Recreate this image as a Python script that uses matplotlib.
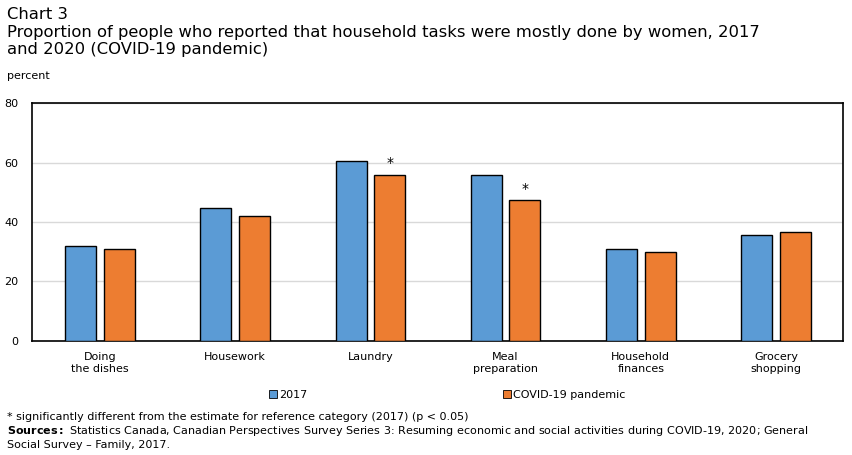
import numpy as np
import matplotlib
matplotlib.use("Agg")
from matplotlib import pyplot as plt
from matplotlib.patches import Patch

# data
categories = ["Doing\nthe dishes", "Housework", "Laundry", "Meal\npreparation",
              "Household\nfinances", "Grocery\nshopping"]
values_2017 = [31.8, 44.6, 60.4, 56.0, 31.0, 35.5]
values_2020 = [31.0, 42.1, 56.0, 47.3, 30.0, 36.5]
significant = [False, False, True, True, False, False]
series_names = ["2017", "COVID-19 pandemic"]
yticks = [0, 20, 40, 60, 80]

blue = "#5b9bd5"
orange = "#ed7d31"

plt.rcParams['font.family'] = ['DejaVu Sans']

fig = plt.figure(figsize=(8.52, 4.55), dpi=100)
ax = fig.add_axes([0.0381, 0.2512, 0.9519, 0.5218])

x = np.arange(len(categories))
w = 0.23
off = 0.143
ax.bar(x - off, values_2017, w, color=blue, edgecolor="black", linewidth=1, zorder=3)
ax.bar(x + off, values_2020, w, color=orange, edgecolor="black", linewidth=1, zorder=3)

# significance markers
for xi, v, s in zip(x, values_2020, significant):
    if s:
        ax.text(xi + off, v + 1.6, "*", ha="center", va="bottom", fontsize=10)

ax.set_xlim(-0.5, len(categories) - 0.5)
ax.set_ylim(0, 80)
ax.set_yticks(yticks)
ax.set_xticks(x)
ax.set_xticklabels(categories, fontsize=8, linespacing=1.3)
ax.tick_params(axis="both", length=0, labelsize=8)
ax.tick_params(axis="y", pad=10)
ax.tick_params(axis="x", pad=8)
ax.grid(axis="y", color="#d9d9d9", linewidth=1, zorder=0)
for sp in ax.spines.values():
    sp.set_color("black")
    sp.set_linewidth(1.2)

# titles and notes
fig.text(0.008, 0.985, "Chart 3", fontsize=11.8, va="top", ha="left")
fig.text(0.008, 0.945,
         "Proportion of people who reported that household tasks were mostly done by women, 2017\n"
         "and 2020 (COVID-19 pandemic)",
         fontsize=11.8, va="top", ha="left", linespacing=1.2)
fig.text(0.008, 0.833, "percent", fontsize=8, va="center", ha="left")

handles = [Patch(facecolor=blue, edgecolor="black", linewidth=0.6),
           Patch(facecolor=orange, edgecolor="black", linewidth=0.6)]
fig.legend(handles, series_names, loc="center", bbox_to_anchor=(0.525, 0.132), ncol=2,
           frameon=False, fontsize=8, handlelength=0.7, handleheight=0.7,
           handletextpad=0.2, columnspacing=17.6)

fig.text(0.008, 0.083, "* significantly different from the estimate for reference category (2017) (p < 0.05)",
         fontsize=8, va="center", ha="left")
fig.text(0.008, 0.052, r"$\bf{Sources:}$ Statistics Canada, Canadian Perspectives Survey Series 3: Resuming economic and social activities during COVID-19, 2020; General",
         fontsize=8, va="center", ha="left")
fig.text(0.008, 0.021, "Social Survey \u2013 Family, 2017.", fontsize=8, va="center", ha="left")

fig.savefig("out.png", dpi=100)
